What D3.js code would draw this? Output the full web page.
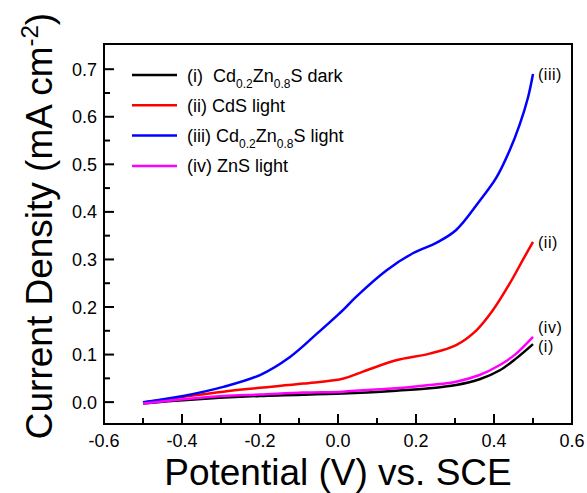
<!DOCTYPE html>
<html>
<head>
<meta charset="utf-8">
<script src="https://cdn.jsdelivr.net/npm/d3@7"></script>
<style>
  body { margin: 0; background: #fff; }
  text { font-family: "Liberation Sans", Arial, sans-serif; fill: #000; }
</style>
</head>
<body>
<svg id="chart" width="587" height="493"></svg>
<script>
// Potential (V vs. SCE) sample points, per curve
const potI   = [-0.5, -0.397, -0.2, 0.012, 0.149, 0.235, 0.303, 0.363, 0.415, 0.457, 0.5];
const curI   = [-0.003, 0.004, 0.013, 0.018, 0.024, 0.029, 0.036, 0.048, 0.067, 0.092, 0.122];

const potII  = [-0.5, -0.397, -0.294, -0.2, -0.089, 0.012, 0.064, 0.149, 0.235, 0.303, 0.355, 0.397, 0.44, 0.474, 0.5];
const curII  = [-0.001, 0.011, 0.022, 0.030, 0.039, 0.049, 0.064, 0.088, 0.102, 0.12, 0.151, 0.193, 0.249, 0.299, 0.337];

const potIII = [-0.5, -0.397, -0.294, -0.2, -0.123, -0.054, 0.012, 0.047, 0.124, 0.192, 0.252, 0.303, 0.363, 0.406, 0.44, 0.466, 0.487, 0.5];
const curIII = [0.0, 0.013, 0.032, 0.057, 0.095, 0.144, 0.193, 0.222, 0.277, 0.313, 0.335, 0.362, 0.423, 0.472, 0.529, 0.584, 0.64, 0.69];

const potIV  = [-0.5, -0.397, -0.294, -0.2, -0.089, 0.012, 0.064, 0.149, 0.235, 0.303, 0.363, 0.415, 0.457, 0.5];
const curIV  = [-0.003, 0.006, 0.013, 0.016, 0.02, 0.022, 0.025, 0.029, 0.036, 0.043, 0.057, 0.078, 0.102, 0.137];

const xTicks = [-0.6, -0.4, -0.2, 0.0, 0.2, 0.4, 0.6];
const yTicks = [0.0, 0.1, 0.2, 0.3, 0.4, 0.5, 0.6, 0.7];

const series = [
    { tag: "(i)",   x: potI,   y: curI,   color: "#000000" },
    { tag: "(ii)",  x: potII,  y: curII,  color: "#ff0000" },
    { tag: "(iii)", x: potIII, y: curIII, color: "#0000ff" },
    { tag: "(iv)",  x: potIV,  y: curIV,  color: "#ff00ff" }
];

// legend entries: pieces of text, sub = subscript
const legendItems = [
    [["(i)\u00a0\u00a0Cd"], ["0.2", "sub"], ["Zn"], ["0.8", "sub"], ["S dark"]],
    [["(ii) CdS light"]],
    [["(iii) Cd"], ["0.2", "sub"], ["Zn"], ["0.8", "sub"], ["S light"]],
    [["(iv) ZnS light"]]
];

const margin = { top: 44, right: 15, bottom: 69, left: 104 };
const width = 587 - margin.left - margin.right;
const height = 493 - margin.top - margin.bottom;

const svg = d3.select("#chart");
const g = svg.append("g").attr("transform", `translate(${margin.left},${margin.top})`);

const x = d3.scaleLinear().domain([-0.6, 0.6]).range([0, width]);
const y = d3.scaleLinear().domain([-0.046, 0.753]).range([height, 0]);

// minor ticks
const xMinor = d3.range(-0.5, 0.6, 0.2);
const yMinor = d3.range(0.05, 0.75, 0.1);

g.append("g")
    .selectAll("line.xmaj")
    .data(xTicks)
    .enter().append("line")
    .attr("x1", d => x(d)).attr("x2", d => x(d))
    .attr("y1", height).attr("y2", height - 10)
    .attr("stroke", "#000").attr("stroke-width", 2);

g.append("g")
    .selectAll("line.xmin")
    .data(xMinor)
    .enter().append("line")
    .attr("x1", d => x(d)).attr("x2", d => x(d))
    .attr("y1", height).attr("y2", height - 6)
    .attr("stroke", "#000").attr("stroke-width", 2);

g.append("g")
    .selectAll("line.ymaj")
    .data(yTicks)
    .enter().append("line")
    .attr("y1", d => y(d)).attr("y2", d => y(d))
    .attr("x1", 0).attr("x2", 10)
    .attr("stroke", "#000").attr("stroke-width", 2);

g.append("g")
    .selectAll("line.ymin")
    .data(yMinor)
    .enter().append("line")
    .attr("y1", d => y(d)).attr("y2", d => y(d))
    .attr("x1", 0).attr("x2", 6)
    .attr("stroke", "#000").attr("stroke-width", 2);

// tick labels
g.selectAll("text.xl")
    .data(xTicks)
    .enter().append("text")
    .attr("x", d => x(d))
    .attr("y", height + 23)
    .attr("text-anchor", "middle")
    .style("font-size", "18px")
    .text(d => d3.format(".1f")(d).replace("−", "-"));

g.selectAll("text.yl")
    .data(yTicks)
    .enter().append("text")
    .attr("x", -7)
    .attr("y", d => y(d) + 6.5)
    .attr("text-anchor", "end")
    .style("font-size", "18px")
    .text(d => d3.format(".1f")(d));

// curves
const line = d3.line()
    .x(d => x(d[0]))
    .y(d => y(d[1]))
    .curve(d3.curveCatmullRom.alpha(0.5));

series.forEach(s => {
    const pts = s.x.map((v, i) => [v, s.y[i]]);
    g.append("path")
        .datum(pts)
        .attr("d", line)
        .attr("fill", "none")
        .attr("stroke", s.color)
        .attr("stroke-width", 2.5);
});

// curve end tags
const tagOffsets = { "(i)": 4, "(ii)": 2, "(iii)": 2, "(iv)": -8 };
series.forEach(s => {
    const n = s.x.length - 1;
    g.append("text")
        .attr("x", x(s.x[n]) + 5)
        .attr("y", y(s.y[n]) + 4 + tagOffsets[s.tag])
        .style("font-size", "16px")
        .style("letter-spacing", "0.5px")
        .text(s.tag);
});

// frame
g.append("rect")
    .attr("width", width).attr("height", height)
    .attr("fill", "none").attr("stroke", "#000").attr("stroke-width", 2);

// legend
const legend = g.selectAll(".legend")
    .data(legendItems)
    .enter().append("g")
    .attr("class", "legend")
    .attr("transform", (d, i) => `translate(28,${31 + i * 30.3})`);

legend.append("line")
    .attr("x1", 0).attr("x2", 45)
    .attr("stroke", (d, i) => series[i].color)
    .attr("stroke-width", 2.5);

legend.each(function (parts) {
    const t = d3.select(this).append("text")
        .attr("x", 55).attr("y", 6.5)
        .style("font-size", "18px");
    let shifted = false;
    parts.forEach(p => {
        const span = t.append("tspan").text(p[0]);
        if (p[1] === "sub") {
            span.style("font-size", "12px").attr("dy", 6);
            shifted = true;
        } else if (shifted) {
            span.attr("dy", -6);
            shifted = false;
        }
    });
});

// axis titles
svg.append("text")
    .attr("x", margin.left + width / 2)
    .attr("y", 485)
    .attr("text-anchor", "middle")
    .style("font-size", "37px")
    .text("Potential (V) vs. SCE");

const yTitle = svg.append("text")
    .attr("transform", `translate(52,${margin.top + height / 2 - 8}) rotate(-90)`)
    .attr("text-anchor", "middle")
    .style("font-size", "37px");
yTitle.append("tspan").text("Current Density (mA cm");
yTitle.append("tspan").text("-2").style("font-size", "24px").attr("dy", -14);
yTitle.append("tspan").text(")").attr("dy", 14);
</script>
</body>
</html>
